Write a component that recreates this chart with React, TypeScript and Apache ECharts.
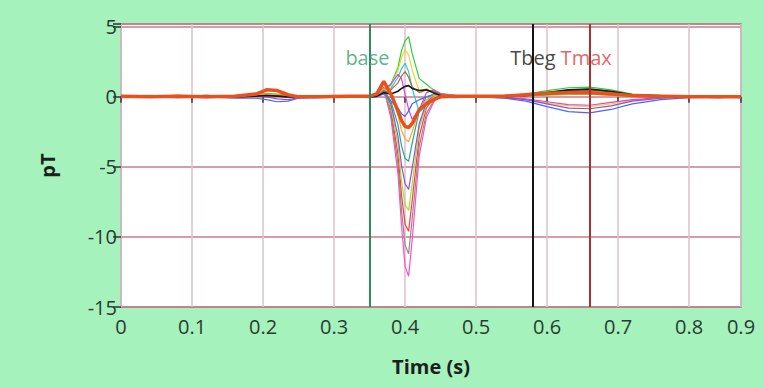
import React, { useEffect, useRef } from "react";
import * as echarts from "echarts";

// time samples (s)
const T = [0, 0.04, 0.08, 0.12, 0.16, 0.19, 0.205, 0.22, 0.235, 0.25, 0.28, 0.32, 0.35, 0.36, 0.37, 0.38, 0.39, 0.395, 0.4, 0.405, 0.41, 0.42, 0.43, 0.44, 0.45, 0.47, 0.5, 0.54, 0.57, 0.6, 0.63, 0.66, 0.69, 0.72, 0.76, 0.8, 0.84, 0.873];

// channel values (pT)
const chGreen = [0.05, 0.1, 0.0, 0.1, 0.05, 0.15, 0.25, 0.2, 0.1, 0.05, 0.0, 0.05, 0.1, 0.2, 0.5, 0.9, 2.1, 3.3, 4.0, 4.3, 3.1, 1.3, 0.9, 0.5, 0.25, 0.1, 0.05, 0.1, 0.2, 0.45, 0.65, 0.7, 0.5, 0.2, 0.1, 0.05, 0.0, 0.05];
const chYellow = [0.0, 0.05, 0.1, 0.0, 0.05, 0.1, 0.2, 0.1, 0.05, 0.0, 0.05, 0.0, 0.1, 0.15, 0.4, 0.8, 1.9, 2.8, 3.4, 3.0, 1.9, 0.4, 0.6, 0.3, 0.1, 0.05, 0.0, -0.05, -0.2, -0.45, -0.65, -0.7, -0.5, -0.25, -0.1, 0.0, 0.05, 0.0];
const chCyan = [0.05, 0.0, 0.05, 0.1, 0.0, 0.05, 0.15, 0.1, 0.0, 0.05, 0.0, 0.05, 0.0, 0.1, 0.3, 0.6, 1.4, 2.0, 2.4, 1.8, 0.6, -1.1, -0.6, -0.2, 0.0, 0.05, 0.0, 0.05, 0.1, 0.3, 0.5, 0.55, 0.35, 0.15, 0.05, 0.0, 0.05, 0.0];
const chMagenta = [0.0, 0.05, 0.0, -0.05, 0.0, 0.05, 0.1, 0.05, 0.0, -0.05, 0.0, 0.05, 0.0, 0.1, 0.4, 0.9, 1.6, 1.3, 0.2, -0.9, -1.6, -0.9, 0.3, 0.5, 0.2, 0.05, 0.0, -0.05, -0.15, -0.35, -0.55, -0.6, -0.4, -0.2, -0.05, 0.0, -0.05, 0.0];
const chBlue = [-0.05, 0.0, -0.05, 0.0, -0.1, -0.1, -0.2, -0.35, -0.3, -0.1, -0.05, 0.0, -0.05, 0.0, 0.2, -0.3, -0.8, -1.2, -1.4, -1.0, -0.5, -0.2, 0.0, 0.1, 0.0, -0.05, 0.0, -0.1, -0.3, -0.7, -1.05, -1.15, -0.9, -0.5, -0.2, -0.05, 0.0, -0.05];
const chPink = [0.0, 0.05, 0.1, 0.05, 0.0, 0.1, 0.2, 0.15, 0.05, 0.0, 0.05, 0.0, 0.05, 0.1, 0.6, -1.5, -5.5, -9.2, -12.1, -12.8, -10.2, -4.2, -1.5, -0.4, 0.2, 0.1, 0.05, 0.0, 0.1, 0.2, 0.35, 0.4, 0.25, 0.1, 0.0, 0.05, 0.0, 0.05];
const chGray = [0.05, 0.0, 0.05, 0.0, 0.05, 0.1, 0.15, 0.1, 0.05, 0.0, 0.0, 0.05, 0.0, 0.1, 0.5, -1.2, -4.8, -8.1, -10.6, -11.2, -8.7, -3.5, -1.2, -0.3, 0.1, 0.05, 0.0, 0.05, 0.1, 0.25, 0.3, 0.35, 0.2, 0.05, 0.0, 0.0, 0.05, 0.0];
const chRed = [0.0, 0.05, 0.0, 0.1, 0.0, 0.05, 0.2, 0.1, 0.0, 0.05, 0.0, 0.0, 0.05, 0.15, 0.7, -0.9, -4.1, -7.0, -9.1, -9.6, -7.4, -2.8, -0.8, -0.1, 0.15, 0.05, 0.0, 0.0, 0.1, 0.2, 0.3, 0.25, 0.15, 0.05, 0.0, 0.05, 0.0, 0.0];
const chLime = [0.05, 0.0, 0.0, 0.05, 0.05, 0.1, 0.15, 0.05, 0.0, 0.0, 0.05, 0.0, 0.0, 0.1, 0.5, -0.7, -3.4, -6.0, -7.7, -8.1, -6.2, -2.2, -0.6, 0.0, 0.1, 0.0, 0.05, 0.0, 0.05, 0.1, 0.15, 0.2, 0.1, 0.0, 0.05, 0.0, 0.0, 0.05];
const chPurple = [0.0, 0.0, 0.05, 0.0, 0.0, 0.05, 0.0, -0.15, -0.2, -0.05, 0.0, 0.05, 0.0, 0.05, 0.4, -0.5, -2.8, -4.9, -6.2, -6.6, -5.1, -1.9, -0.4, 0.1, 0.05, 0.0, 0.0, -0.05, -0.2, -0.5, -0.8, -0.85, -0.65, -0.3, -0.1, 0.0, -0.05, 0.0];
const chTeal = [0.0, 0.05, 0.0, 0.0, 0.05, 0.05, 0.1, 0.05, 0.0, 0.05, 0.0, 0.0, 0.05, 0.1, 0.5, -0.3, -2.0, -3.5, -4.4, -4.6, -3.3, -1.0, 0.0, 0.2, 0.1, 0.0, 0.05, 0.0, 0.05, 0.15, 0.25, 0.3, 0.2, 0.05, 0.0, 0.0, 0.05, 0.0];
const chOrange = [0.05, 0.0, 0.05, 0.05, 0.0, 0.1, 0.2, 0.15, 0.05, 0.0, 0.05, 0.0, 0.0, 0.1, 0.6, 0.1, -1.3, -2.4, -3.0, -3.2, -2.5, -0.9, -0.2, 0.1, 0.05, 0.0, 0.0, 0.05, 0.1, 0.2, 0.35, 0.45, 0.3, 0.1, 0.05, 0.0, 0.0, 0.05];
const chBrown = [0.0, 0.05, 0.0, 0.0, 0.05, 0.05, 0.1, 0.05, 0.0, 0.05, 0.0, 0.05, 0.0, 0.1, 0.3, 0.5, 1.0, 1.5, 1.8, 1.4, 0.7, 0.3, 0.5, 0.4, 0.15, 0.05, 0.0, 0.05, 0.15, 0.3, 0.45, 0.5, 0.35, 0.15, 0.05, 0.0, 0.05, 0.0];
const chBlack = [0.0, 0.0, 0.05, 0.0, 0.0, 0.05, 0.1, 0.05, 0.0, 0.0, 0.05, 0.0, 0.0, 0.05, 0.3, 0.2, 0.4, 0.6, 0.75, 0.8, 0.6, 0.45, 0.5, 0.3, 0.1, 0.0, 0.05, 0.0, 0.1, 0.3, 0.5, 0.55, 0.4, 0.15, 0.05, 0.0, 0.0, 0.05];
const chMain = [0.05, 0.0, 0.05, 0.0, 0.05, 0.2, 0.5, 0.45, 0.15, 0.0, 0.0, 0.05, 0.05, 0.2, 1.1, 0.2, -1.0, -1.7, -2.1, -2.2, -1.9, -0.9, -0.5, -0.2, 0.0, 0.05, 0.05, 0.05, 0.15, 0.25, 0.3, 0.3, 0.2, 0.1, 0.05, 0.0, 0.0, 0.0];

const channels = [
  { name: "ch1", values: chGreen, color: "#2ecc40" },
  { name: "ch2", values: chYellow, color: "#e6dc1e" },
  { name: "ch3", values: chCyan, color: "#22c8e0" },
  { name: "ch4", values: chMagenta, color: "#e040e0" },
  { name: "ch5", values: chBlue, color: "#4a63ff" },
  { name: "ch6", values: chPink, color: "#ff4fc0" },
  { name: "ch7", values: chGray, color: "#8c8c8c" },
  { name: "ch8", values: chRed, color: "#ff3a3a" },
  { name: "ch9", values: chLime, color: "#9be040" },
  { name: "ch10", values: chPurple, color: "#9050d0" },
  { name: "ch11", values: chTeal, color: "#1fa6a0" },
  { name: "ch12", values: chOrange, color: "#ffa030" },
  { name: "ch13", values: chBrown, color: "#a86a35" },
];

// markers (s)
const markerNames = ["base", "Tbeg", "Tmax"];
const markerTimes = [0.347, 0.58, 0.655];
const markerColors = ["#2f8a5e", "#151515", "#a83232"];
const markerTextColors = ["#35a06c", "#151515", "#d9403e"];
const markerLabelLevel = 2.8;

const xTickLabels = ["0", "0.1", "0.2", "0.3", "0.4", "0.5", "0.6", "0.7", "0.8", "0.9"];

export default function App() {
  const ref = useRef<HTMLDivElement>(null);
  useEffect(() => {
    if (!ref.current) return;
    const chart = echarts.init(ref.current, null, { renderer: "svg" });
    const pairs = (vals: number[]) => T.map((t, i) => [t, vals[i]]);
    const font = "Open Sans";
    const series: any[] = channels.map((c) => ({
      name: c.name,
      type: "line",
      data: pairs(c.values),
      showSymbol: false,
      lineStyle: { color: c.color, width: 1.2 },
      itemStyle: { color: c.color },
      z: 2,
    }));
    series.push({
      name: "black",
      type: "line",
      data: pairs(chBlack),
      showSymbol: false,
      lineStyle: { color: "#1a1a1a", width: 1.6 },
      z: 3,
    });
    series.push({
      name: "mean",
      type: "line",
      data: pairs(chMain),
      showSymbol: false,
      lineStyle: { color: "#e8501c", width: 3.5 },
      z: 4,
    });
    series.push({
      name: "markers",
      type: "line",
      data: [],
      z: 5,
      markLine: {
        silent: true,
        symbol: ["none", "none"],
        label: { show: false },
        data: markerTimes.map((t, i) => ({
          xAxis: t,
          lineStyle: { color: markerColors[i], width: 2, type: "solid" },
        })),
      },
    });
    series.push({
      name: "markerLabels",
      type: "scatter",
      symbolSize: 1,
      itemStyle: { color: "rgba(0,0,0,0)" },
      z: 6,
      data: markerTimes.map((t, i) => ({
        value: [t, markerLabelLevel],
        name: markerNames[i],
        label: {
          show: true,
          position: "inside",
          formatter: markerNames[i],
          color: markerTextColors[i],
          fontSize: 20,
          fontFamily: font,
        },
      })),
    });

    chart.setOption({
      animation: false,
      backgroundColor: "#a5f2bd",
      textStyle: { fontFamily: font },
      grid: {
        left: 121,
        right: 22,
        top: 24,
        bottom: 80,
        show: true,
        backgroundColor: "#ffffff",
        borderColor: "#8a8a8a",
        borderWidth: 1.5,
      },
      xAxis: {
        type: "value",
        min: 0,
        max: 0.873,
        interval: 0.1,
        offset: 3,
        name: "Time (s)",
        nameLocation: "middle",
        nameGap: 46,
        nameTextStyle: { fontSize: 20, fontWeight: "bold", color: "#1e1e1e", fontFamily: font },
        axisLine: { show: false },
        axisTick: { show: true, length: 6, lineStyle: { color: "#333", width: 1.5 } },
        axisLabel: {
          fontSize: 20,
          color: "#2c3a30",
          margin: 6,
          showMaxLabel: true,
          showMinLabel: true,
          formatter: (v: number) => xTickLabels[Math.round(v * 10)] ?? "",
        },
        splitLine: { show: true, lineStyle: { color: "#dcc0c8", width: 1.5 } },
      },
      yAxis: {
        type: "value",
        min: -15,
        max: 5.2,
        interval: 5,
        offset: 2,
        name: "pT",
        nameLocation: "middle",
        nameGap: 62,
        nameRotate: 90,
        nameTextStyle: { fontSize: 20, fontWeight: "bold", color: "#1e1e1e", fontFamily: font },
        axisLine: { show: false },
        axisTick: { show: true, length: 8, lineStyle: { color: "#333", width: 1.5 } },
        axisLabel: {
          fontSize: 20,
          color: "#2c3a30",
          margin: 2,
          showMaxLabel: true,
          formatter: (v: number) => (Math.abs(v % 5) < 1e-6 ? String(v) : ""),
        },
        splitLine: { show: true, lineStyle: { color: "#c97c8a", width: 1.5 } },
      },
      series,
    });
    return () => chart.dispose();
  }, []);
  return (
    <div
      ref={ref}
      style={{ position: "absolute", left: 0, top: 0, width: 763, height: 387 }}
    />
  );
}
